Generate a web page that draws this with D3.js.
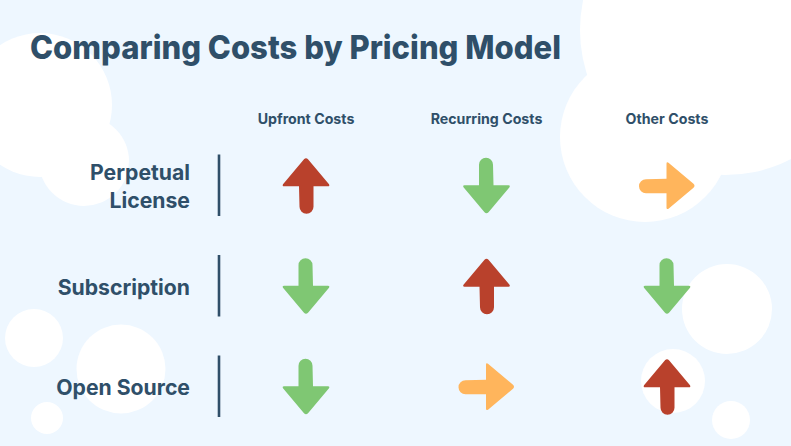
<!DOCTYPE html>
<html>
<head>
<meta charset="utf-8">
<script src="https://cdn.jsdelivr.net/npm/d3@7/dist/d3.min.js"></script>
<style>
  html, body { margin: 0; padding: 0; background: #eef7ff; }
  svg { display: block; }
  text { font-family: Inter, "Open Sans", sans-serif; font-weight: 700; fill: #2f4f69; }
</style>
</head>
<body>
<svg id="chart" width="791" height="446"></svg>
<script>
const title = 'Comparing Costs by Pricing Model';
const costTypes = ['Upfront Costs', 'Recurring Costs', 'Other Costs'];
const pricingModels = [['Perpetual', 'License'], ['Subscription'], ['Open Source']];

// +1 cost goes up, -1 goes down, 0 is neutral
const perpetualCosts = [1, -1, 0];
const subscriptionCosts = [-1, 1, -1];
const openSourceCosts = [-1, 0, 1];
const costRows = [perpetualCosts, subscriptionCosts, openSourceCosts];

// background blobs: x, y, r
const blobs = [
  [40, 105, 72], [84, 161, 45],
  [645, 137, 85], [725, 30, 145],
  [727, 309, 45], [673, 381, 32], [731, 420, 19],
  [34, 338, 29], [121, 369, 44.5], [47, 418, 16]
];

const svg = d3.select('#chart');

const x = d3.scalePoint().domain(d3.range(costTypes.length)).range([306, 667]);
const y = d3.scalePoint().domain(d3.range(pricingModels.length)).range([185, 386]);
const color = d3.scaleOrdinal().domain([1, -1, 0]).range(['#b9412c', '#7fc773', '#ffb55c']);
const angle = d3.scaleOrdinal().domain([1, -1, 0]).range([0, 180, 90]);

svg.append('g').selectAll('circle')
  .data(blobs)
  .join('circle')
  .attr('cx', d => d[0])
  .attr('cy', d => d[1])
  .attr('r', d => d[2])
  .style('fill', '#fff');

svg.append('text')
  .attr('x', 30)
  .attr('y', 59)
  .style('font-size', '33px')
  .style('font-weight', 800)
  .attr('textLength', 531)
  .attr('lengthAdjust', 'spacingAndGlyphs')
  .text(title);

svg.append('g').selectAll('text')
  .data(costTypes)
  .join('text')
  .attr('x', (d, i) => x(i))
  .attr('y', 124)
  .attr('text-anchor', 'middle')
  .style('font-size', '14.2px')
  .text(d => d);

const rows = svg.append('g').selectAll('g')
  .data(pricingModels)
  .join('g')
  .attr('transform', (d, i) => `translate(0,${y(i)})`);

rows.append('text')
  .attr('text-anchor', 'end')
  .style('font-size', '21.2px')
  .selectAll('tspan')
  .data(d => d)
  .join('tspan')
  .attr('x', 190)
  .attr('y', (d, i, n) => 9 + (i - (n.length - 1) / 2) * 28)
  .text(d => d);

rows.append('line')
  .attr('x1', 219)
  .attr('x2', 219)
  .attr('y1', -30.5)
  .attr('y2', 31)
  .style('stroke', '#2f4f69')
  .style('stroke-width', 2.6);

// arrow pointing up, centred on 0,0
const arrow = 'M0,-27.5 Q1,-27.5 2,-26.5 L23,-1.5 Q24,0.5 22,0.5 L7.5,0.5 L7.5,21 A7,7 0 0 1 -6.5,21 L-7,0.5 L-22,0.5 Q-24,0.5 -23,-1.5 L-2,-26.5 Q-1,-27.5 0,-27.5 Z';

rows.each(function(d, r) {
  d3.select(this).selectAll('path')
    .data(costRows[r])
    .join('path')
    .attr('d', arrow)
    .attr('transform', (v, c) => `translate(${x(c)},0.7) rotate(${angle(v)})`)
    .style('fill', v => color(v));
});
</script>
</body>
</html>
